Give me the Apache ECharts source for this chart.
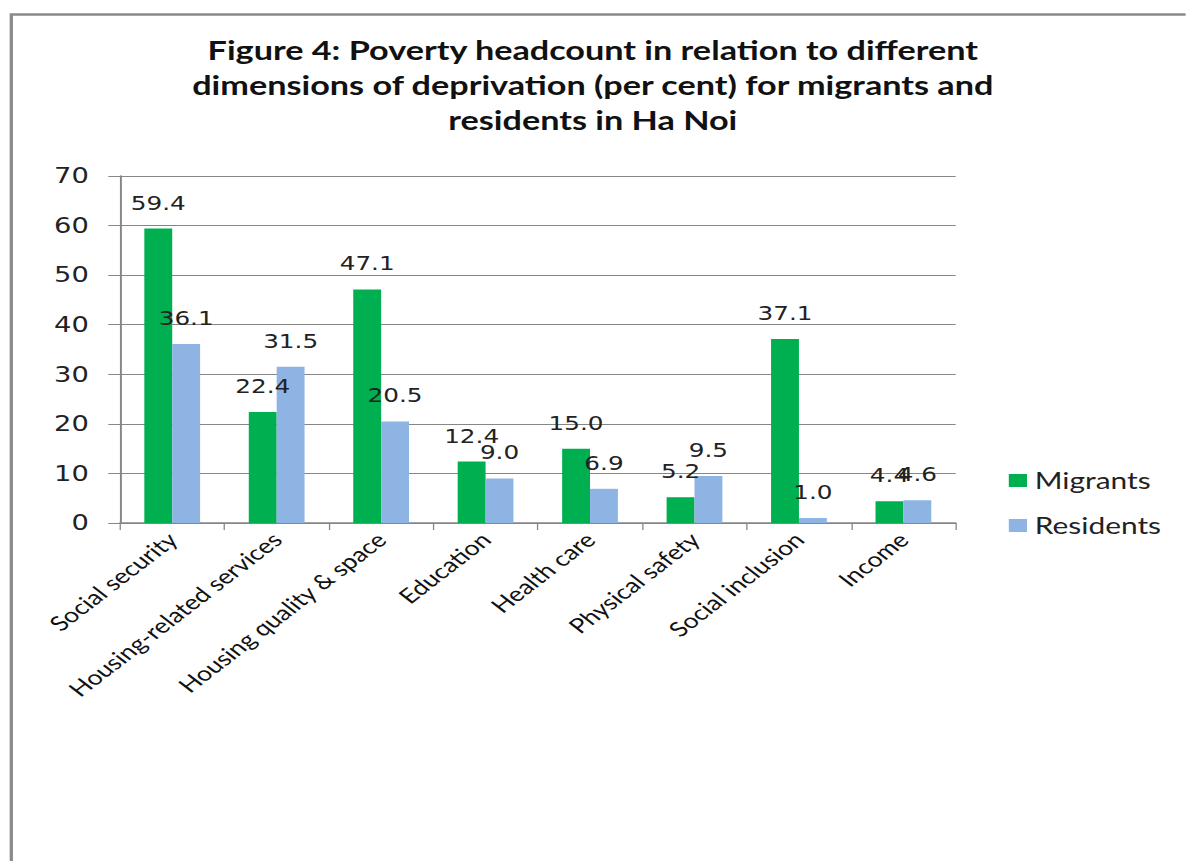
<!DOCTYPE html>
<html>
<head>
<meta charset="utf-8">
<script src="https://cdn.jsdelivr.net/npm/echarts@6/dist/echarts.min.js"></script>
<style>
html,body{margin:0;padding:0;background:#fff;overflow:hidden;}
#wrap{width:1186px;height:861px;overflow:hidden;position:relative;}
/* The reference picture is horizontally stretched; reproduce that stretch */
#chart{width:912.3px;height:861px;transform:scaleX(1.3);transform-origin:0 0;}
</style>
</head>
<body>
<div id="wrap"><div id="chart"></div></div>
<script>
const titleText = 'Figure 4: Poverty headcount in relation to different\ndimensions of deprivation (per cent) for migrants and\nresidents in Ha Noi';
const categories = ['Social security','Housing-related services','Housing quality & space','Education','Health care','Physical safety','Social inclusion','Income'];
const migrants = [59.4, 22.4, 47.1, 12.4, 15.0, 5.2, 37.1, 4.4];
const residents = [36.1, 31.5, 20.5, 9.0, 6.9, 9.5, 1.0, 4.6];
const seriesNames = ['Migrants','Residents'];
const yTicks = {min: 0, max: 70, interval: 10};

const chart = echarts.init(document.getElementById('chart'), null, {renderer: 'svg'});
const labelStyle = {
  show: true, position: 'top', distance: 16,
  fontFamily: 'DejaVu Sans', fontSize: 19, color: '#222',
  formatter: p => p.value.toFixed(1)
};
chart.setOption({
  animation: false,
  backgroundColor: '#fff',
  graphic: [{
    type: 'rect', left: 6.2, top: 12, silent: true,
    shape: {x: 0, y: 0, width: 1000, height: 900},
    style: {fill: 'none', stroke: '#8a8a8a', lineWidth: 2.5}
  }],
  title: {
    text: titleText, left: 'center', top: 32, padding: [0, 0, 0, 14],
    textStyle: {fontFamily: 'Lato', fontWeight: 'bold', fontSize: 26.3, lineHeight: 35, color: '#111'}
  },
  legend: {
    orient: 'vertical', left: 771, top: 464, itemGap: 22,
    itemWidth: 14, itemHeight: 13, icon: 'rect',
    textStyle: {fontFamily: 'Lato', fontSize: 23, color: '#222', padding: [0,0,0,1]}
  },
  grid: {left: 92.3, right: 176.9, top: 176, bottom: 338},
  xAxis: {
    type: 'category', data: categories,
    axisLine: {lineStyle: {color: '#868686', width: 1.5}},
    axisTick: {show: true, length: 7, lineStyle: {color: '#868686'}},
    axisLabel: {rotate: 45, interval: 0, margin: 13, fontFamily: 'Lato', fontSize: 20.5, color: '#111'}
  },
  yAxis: {
    type: 'value', min: yTicks.min, max: yTicks.max, interval: yTicks.interval,
    axisLine: {show: true, lineStyle: {color: '#868686', width: 1.5}},
    axisTick: {show: true, length: 9, lineStyle: {color: '#868686'}},
    splitLine: {lineStyle: {color: '#868686', width: 1}},
    axisLabel: {margin: 24, fontFamily: 'DejaVu Sans', fontSize: 21, color: '#222'}
  },
  series: [
    {name: seriesNames[0], type: 'bar', data: migrants, barGap: '0%', barCategoryGap: '46.6%',
     itemStyle: {color: '#00B050'}, label: labelStyle},
    {name: seriesNames[1], type: 'bar', data: residents, barGap: '0%', barCategoryGap: '46.6%',
     itemStyle: {color: '#8EB4E3'}, label: labelStyle}
  ]
});
</script>
</body>
</html>
